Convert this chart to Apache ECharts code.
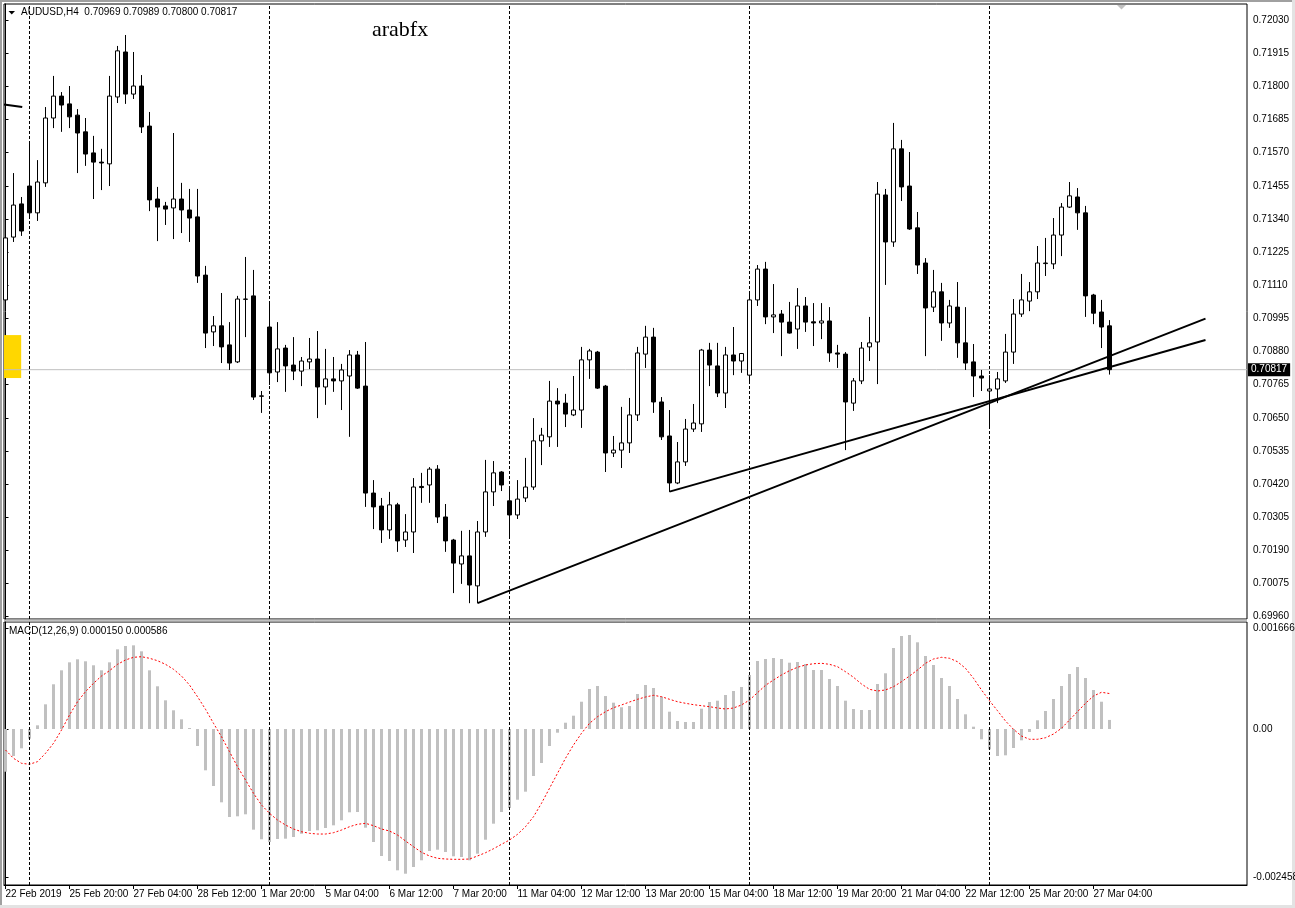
<!DOCTYPE html>
<html><head><meta charset="utf-8">
<script src="https://cdn.jsdelivr.net/npm/echarts@6/dist/echarts.min.js"></script>
<style>html,body{margin:0;padding:0;background:#fff;}#c{width:1295px;height:908px;}</style>
</head><body><div id="c"></div>
<script>
// ---------------- data ----------------
const symbolTitle = 'AUDUSD,H4  0.70969 0.70989 0.70800 0.70817';
const macdTitle = 'MACD(12,26,9) 0.000150 0.000586';
const watermark = 'arabfx';

const xTickLabels = ['22 Feb 2019','25 Feb 20:00','27 Feb 04:00','28 Feb 12:00','1 Mar 20:00','5 Mar 04:00',
  '6 Mar 12:00','7 Mar 20:00','11 Mar 04:00','12 Mar 12:00','13 Mar 20:00','15 Mar 04:00','18 Mar 12:00',
  '19 Mar 20:00','21 Mar 04:00','22 Mar 12:00','25 Mar 20:00','27 Mar 04:00'];
const barsPerLabel = 8;
const weekStartBars = [3, 33, 63, 93, 123];

const priceTicks = [0.72030,0.71915,0.71800,0.71685,0.71570,0.71455,0.71340,0.71225,0.71110,0.70995,
  0.70880,0.70765,0.70650,0.70535,0.70420,0.70305,0.70190,0.70075,0.69960];
const macdTicks = [0.001666, 0, -0.002458];
const lastPrice = 0.70817;

const opens = [0.71059,0.71277,0.71392,0.71454,0.71361,0.71465,0.71690,0.71766,0.71739,0.71700,
0.71642,0.71569,0.71537,0.71531,0.71763,0.71919,0.71773,0.71801,0.71662,0.71409,
0.71385,0.71378,0.71409,0.71371,0.71347,0.71145,0.70948,0.70969,0.70903,0.70844,
0.71061,0.71073,0.70726,0.70965,0.70809,0.70892,0.70833,0.70812,0.70844,0.70854,
0.70757,0.70785,0.70778,0.70795,0.70868,0.70760,0.70389,0.70344,0.70261,0.70348,
0.70226,0.70254,0.70412,0.70417,0.70472,0.70306,0.70226,0.70143,0.70171,0.70067,
0.70254,0.70393,0.70462,0.70362,0.70313,0.70372,0.70410,0.70570,0.70584,0.70708,
0.70701,0.70660,0.70677,0.70851,0.70878,0.70760,0.70528,0.70538,0.70563,0.70660,
0.70871,0.70930,0.70705,0.70587,0.70424,0.70497,0.70611,0.70629,0.70885,0.70830,
0.70736,0.70868,0.70847,0.70798,0.71059,0.71166,0.71000,0.71010,0.70982,0.70958,
0.71038,0.70983,0.70979,0.70986,0.70875,0.70871,0.70701,0.70778,0.70896,0.70913,
0.71423,0.71260,0.71583,0.71454,0.71309,0.71187,0.71034,0.71087,0.70979,0.71034,
0.70910,0.70844,0.70795,0.70743,0.70750,0.70778,0.70878,0.71010,0.71055,0.71087,
0.71185,0.71184,0.71284,0.71381,0.71416,0.71361,0.71076,0.71017,0.70969];
const highs = [0.71302,0.71499,0.71416,0.71607,0.71544,0.71728,0.71836,0.71780,0.71801,0.71721,
0.71690,0.71628,0.71583,0.71836,0.71940,0.71978,0.71919,0.71839,0.71711,0.71451,
0.71399,0.71638,0.71465,0.71444,0.71444,0.71177,0.71003,0.71083,0.70982,0.71073,
0.71208,0.71163,0.70743,0.71048,0.70982,0.70903,0.70930,0.70861,0.70927,0.70951,
0.70889,0.70861,0.70837,0.70885,0.70882,0.70913,0.70434,0.70372,0.70393,0.70355,
0.70316,0.70441,0.70459,0.70479,0.70486,0.70351,0.70230,0.70258,0.70261,0.70292,
0.70504,0.70500,0.70465,0.70403,0.70434,0.70511,0.70649,0.70615,0.70778,0.70753,
0.70733,0.70795,0.70896,0.70889,0.70882,0.70764,0.70587,0.70688,0.70719,0.70896,
0.70969,0.70962,0.70722,0.70677,0.70566,0.70646,0.70698,0.70889,0.70910,0.70910,
0.70896,0.70965,0.70875,0.71087,0.71180,0.71191,0.71114,0.71024,0.71052,0.71100,
0.71069,0.71048,0.71048,0.71034,0.70903,0.70878,0.70788,0.70913,0.71000,0.71468,
0.71444,0.71673,0.71614,0.71572,0.71364,0.71204,0.71163,0.71118,0.71059,0.71121,
0.71034,0.70906,0.70816,0.70798,0.70809,0.70941,0.71062,0.71149,0.71121,0.71246,
0.71274,0.71343,0.71395,0.71468,0.71447,0.71385,0.71080,0.71059,0.70989];
const lows = [0.71048,0.71260,0.71281,0.71343,0.71333,0.71451,0.71655,0.71642,0.71655,0.71499,
0.71524,0.71409,0.71440,0.71454,0.71742,0.71739,0.71756,0.71638,0.71367,0.71263,
0.71319,0.71270,0.71291,0.71260,0.71118,0.70892,0.70899,0.70840,0.70816,0.70840,
0.70930,0.70712,0.70667,0.70764,0.70774,0.70740,0.70781,0.70760,0.70819,0.70649,
0.70695,0.70740,0.70677,0.70584,0.70750,0.70341,0.70264,0.70216,0.70230,0.70185,
0.70202,0.70181,0.70355,0.70355,0.70285,0.70185,0.70042,0.70074,0.70007,0.70007,
0.70237,0.70344,0.70396,0.70237,0.70299,0.70358,0.70400,0.70486,0.70549,0.70549,
0.70618,0.70656,0.70615,0.70785,0.70750,0.70462,0.70514,0.70476,0.70528,0.70639,
0.70823,0.70667,0.70573,0.70393,0.70420,0.70483,0.70601,0.70601,0.70760,0.70722,
0.70684,0.70798,0.70806,0.70771,0.71038,0.70975,0.70944,0.70864,0.70942,0.70889,
0.70948,0.70899,0.70923,0.70844,0.70823,0.70538,0.70674,0.70767,0.70847,0.70767,
0.71111,0.71243,0.71402,0.71302,0.71149,0.70864,0.71017,0.70917,0.70962,0.70858,
0.70816,0.70722,0.70743,0.70618,0.70701,0.70771,0.70837,0.71000,0.71020,0.71062,
0.71142,0.71166,0.71211,0.71378,0.71302,0.71000,0.70975,0.70892,0.70800];
const closes = [0.71274,0.71388,0.71298,0.71361,0.71468,0.71690,0.71766,0.71735,0.71694,0.71638,
0.71565,0.71537,0.71534,0.71766,0.71923,0.71773,0.71801,0.71659,0.71406,0.71381,
0.71374,0.71409,0.71371,0.71343,0.71142,0.70944,0.70969,0.70896,0.70840,0.71062,
0.71062,0.70722,0.70725,0.70806,0.70889,0.70830,0.70812,0.70847,0.70854,0.70757,
0.70785,0.70778,0.70816,0.70868,0.70753,0.70389,0.70341,0.70261,0.70348,0.70223,
0.70254,0.70410,0.70408,0.70472,0.70306,0.70223,0.70146,0.70171,0.70070,0.70254,
0.70393,0.70459,0.70417,0.70313,0.70368,0.70410,0.70570,0.70590,0.70708,0.70698,
0.70663,0.70677,0.70851,0.70882,0.70753,0.70528,0.70538,0.70563,0.70660,0.70875,
0.70930,0.70705,0.70584,0.70424,0.70497,0.70611,0.70632,0.70885,0.70833,0.70736,
0.70868,0.70847,0.70873,0.71059,0.71166,0.71000,0.71007,0.70982,0.70944,0.71038,
0.70982,0.70979,0.70986,0.70875,0.70871,0.70705,0.70778,0.70892,0.70910,0.71426,
0.71260,0.71583,0.71451,0.71305,0.71180,0.71031,0.71087,0.70979,0.71038,0.70910,
0.70840,0.70795,0.70788,0.70750,0.70785,0.70878,0.71010,0.71059,0.71087,0.71187,
0.71187,0.71284,0.71381,0.71420,0.71361,0.71073,0.71013,0.70965,0.70817];

const macdHist = [-0.000706,-0.000446,-0.000319,-0.000160,0.000061,0.000408,0.000739,0.000970,0.001102,0.001152,
0.001119,0.001053,0.000970,0.001102,0.001317,0.001372,0.001383,0.001284,0.000970,0.000706,
0.000474,0.000309,0.000160,0.000017,-0.000281,-0.000683,-0.000942,-0.001212,-0.001455,-0.001443,
-0.001410,-0.001664,-0.001823,-0.001868,-0.001818,-0.001813,-0.001785,-0.001731,-0.001686,-0.001674,
-0.001636,-0.001592,-0.001509,-0.001377,-0.001372,-0.001631,-0.001868,-0.002099,-0.002182,-0.002336,
-0.002392,-0.002281,-0.002170,-0.002017,-0.001995,-0.002033,-0.002104,-0.002116,-0.002170,-0.002061,
-0.001830,-0.001565,-0.001372,-0.001306,-0.001169,-0.001036,-0.000777,-0.000562,-0.000281,-0.000061,
0.000104,0.000220,0.000451,0.000661,0.000711,0.000545,0.000435,0.000359,0.000380,0.000579,
0.000727,0.000678,0.000534,0.000286,0.000132,0.000116,0.000116,0.000336,0.000446,0.000468,
0.000562,0.000628,0.000694,0.000893,0.001124,0.001157,0.001174,0.001157,0.001096,0.001107,
0.001074,0.000975,0.000975,0.000826,0.000711,0.000468,0.000331,0.000314,0.000314,0.000744,
0.000921,0.001339,0.001537,0.001554,0.001433,0.001207,0.001058,0.000843,0.000711,0.000496,
0.000243,0.000038,-0.000170,-0.000336,-0.000446,-0.000435,-0.000314,-0.000187,-0.000050,0.000144,
0.000298,0.000496,0.000711,0.000909,0.001025,0.000843,0.000645,0.000451,0.000150];
const macdSignal = [-0.000347,-0.000484,-0.000567,-0.000583,-0.000540,-0.000402,-0.000236,-0.000017,0.000231,0.000451,
0.000617,0.000755,0.000876,0.000964,0.001069,0.001141,0.001185,0.001195,0.001169,0.001129,
0.001069,0.000987,0.000876,0.000727,0.000534,0.000326,0.000094,-0.000127,-0.000375,-0.000623,
-0.000843,-0.001063,-0.001256,-0.001393,-0.001504,-0.001587,-0.001653,-0.001698,-0.001724,-0.001736,
-0.001736,-0.001714,-0.001670,-0.001615,-0.001575,-0.001559,-0.001598,-0.001653,-0.001686,-0.001752,
-0.001851,-0.001946,-0.002038,-0.002099,-0.002137,-0.002149,-0.002154,-0.002154,-0.002149,-0.002099,
-0.002045,-0.001979,-0.001906,-0.001835,-0.001741,-0.001615,-0.001450,-0.001228,-0.000980,-0.000732,
-0.000484,-0.000264,-0.000071,0.000094,0.000203,0.000286,0.000352,0.000397,0.000446,0.000491,
0.000529,0.000557,0.000534,0.000491,0.000451,0.000425,0.000402,0.000385,0.000369,0.000347,
0.000331,0.000347,0.000397,0.000479,0.000600,0.000722,0.000810,0.000893,0.000964,0.001020,
0.001058,0.001079,0.001086,0.001069,0.001030,0.000947,0.000855,0.000744,0.000656,0.000628,
0.000645,0.000699,0.000782,0.000876,0.000975,0.001086,0.001157,0.001185,0.001169,0.001112,
0.001003,0.000838,0.000645,0.000468,0.000302,0.000132,-0.000005,-0.000116,-0.000170,-0.000170,
-0.000144,-0.000083,0.000012,0.000149,0.000286,0.000425,0.000545,0.000607,0.000586];

// trend lines drawn on the chart: [barIndex, price] end points
const trendLineA = [[59, 0.70007], [150, 0.70994]];
const trendLineB = [[83, 0.70394], [150, 0.70920]];
const trendLineC = [[-0.1875, 0.71737], [2.09, 0.71728]];
// highlighted rectangle (bar index range, price range)
const yellowBox = {x0: -0.1875, x1: 1.96, top: 0.70937, bottom: 0.70788};

// ---------------- axis ranges ----------------
const X_MIN = -0.1875, X_MAX = 155.1875;
const PRICE_MIN = 0.699521, PRICE_MAX = 0.720855;
const MACD_MIN = -0.0025785, MACD_MAX = 0.0017686;

const FONT = '"Liberation Sans", Arial, sans-serif';
const candleData = opens.map((o, i) => [i, o, closes[i], lows[i], highs[i]]);
const histData = macdHist.map((v, i) => [i, v]);
const sigData = macdSignal.map((v, i) => [i, v]);
const xTickPos = xTickLabels.map((_, k) => k * barsPerLabel);

const sepLines = weekStartBars.map(v => ({xAxis: v, lineStyle: {color: '#000', type: [3, 2], width: 1}, label: {show: false}}));

function trend(data) {
  return {type: 'line', xAxisIndex: 0, yAxisIndex: 0, data: data, symbol: 'none', silent: true, z: 6,
    lineStyle: {color: '#000', width: 2}};
}

const chart = echarts.init(document.getElementById('c'), null, {renderer: 'canvas', width: 1295, height: 908});
const axisLbl = {fontSize: 10, color: '#000', fontFamily: FONT};
chart.setOption({
  animation: false,
  backgroundColor: '#fff',
  textStyle: {fontFamily: FONT},
  grid: [
    {left: 4, top: 4, width: 1243, height: 615, show: true, borderColor: '#000', borderWidth: 1,
      backgroundColor: 'transparent', containLabel: false, outerBoundsMode: 'none'},
    {left: 4, top: 622, width: 1243, height: 263, show: true, borderColor: '#000', borderWidth: 1,
      backgroundColor: 'transparent', containLabel: false, outerBoundsMode: 'none'}
  ],
  xAxis: [
    {type: 'value', gridIndex: 0, min: X_MIN, max: X_MAX, show: false, splitLine: {show: false}},
    {type: 'value', gridIndex: 1, min: X_MIN, max: X_MAX, splitLine: {show: false},
      axisLine: {show: true, onZero: false, lineStyle: {color: '#000', width: 1}},
      axisTick: {show: true, customValues: xTickPos, length: 4, lineStyle: {color: '#000'}},
      axisLabel: Object.assign({customValues: xTickPos, align: 'left', margin: 4,
        formatter: v => xTickLabels[Math.round(v / barsPerLabel)] || ''}, axisLbl)}
  ],
  yAxis: [
    {type: 'value', gridIndex: 0, position: 'right', min: PRICE_MIN, max: PRICE_MAX, splitLine: {show: false},
      axisLine: {show: true, lineStyle: {color: '#000', width: 1}},
      axisTick: {show: true, customValues: priceTicks, length: 3, lineStyle: {color: '#000'}},
      axisLabel: Object.assign({customValues: priceTicks, margin: 6, formatter: v => v.toFixed(5)}, axisLbl)},
    {type: 'value', gridIndex: 1, position: 'right', min: MACD_MIN, max: MACD_MAX, splitLine: {show: false},
      axisLine: {show: true, lineStyle: {color: '#000', width: 1}},
      axisTick: {show: true, customValues: macdTicks, length: 3, lineStyle: {color: '#000'}},
      axisLabel: Object.assign({customValues: macdTicks, margin: 6, formatter: v => (v === 0 ? '0.00' : v.toFixed(6))}, axisLbl)}
  ],
  series: [
    {type: 'line', name: 'Bid', xAxisIndex: 0, yAxisIndex: 0, data: [[X_MIN, lastPrice], [X_MAX, lastPrice]],
      symbol: 'none', silent: true, z: 2, clip: false, lineStyle: {color: '#C0C0C0', width: 1},
      endLabel: {show: true, formatter: lastPrice.toFixed(5), backgroundColor: '#000', color: '#fff',
        padding: [2, 3, 1, 3], fontSize: 10, fontFamily: FONT, distance: 1}},
    {type: 'candlestick', name: 'AUDUSD', xAxisIndex: 0, yAxisIndex: 0, data: candleData, barWidth: 4, z: 5,
      itemStyle: {color: '#fff', color0: '#000', borderColor: '#000', borderColor0: '#000', borderColorDoji: '#000', borderWidth: 1},
      markArea: {silent: true, itemStyle: {color: '#FFD700', opacity: 1},
        data: [[{xAxis: yellowBox.x0, yAxis: yellowBox.top}, {xAxis: yellowBox.x1, yAxis: yellowBox.bottom}]]},
      markLine: {silent: true, symbol: ['none', 'none'], label: {show: false}, data: sepLines}
    },
    trend(trendLineA), trend(trendLineB), trend(trendLineC),
    {type: 'bar', name: 'MACD', xAxisIndex: 1, yAxisIndex: 1, data: histData, barWidth: 3, itemStyle: {color: '#C0C0C0'},
      markLine: {silent: true, symbol: ['none', 'none'], label: {show: false}, data: sepLines}},
    {type: 'line', name: 'Signal', xAxisIndex: 1, yAxisIndex: 1, data: sigData, symbol: 'none', z: 4,
      lineStyle: {color: '#FF0000', width: 1, type: [2, 2]}}
  ],
  graphic: [
    {type: 'rect', shape: {x: 0, y: 0, width: 1295, height: 2}, style: {fill: '#A0A0A0'}, silent: true},
    {type: 'rect', shape: {x: 0, y: 0, width: 2, height: 908}, style: {fill: '#A0A0A0'}, silent: true},
    {type: 'rect', shape: {x: 1292, y: 0, width: 3, height: 908}, style: {fill: '#E3E3E3'}, silent: true},
    {type: 'rect', shape: {x: 0, y: 905, width: 1295, height: 3}, style: {fill: '#E3E3E3'}, silent: true},
    {type: 'rect', shape: {x: 4, y: 619.5, width: 1243, height: 2}, style: {fill: '#C0C0C0'}, silent: true},
    {type: 'polygon', shape: {points: [[8.5, 11], [15, 11], [11.75, 14.5]]}, style: {fill: '#000'}, silent: true},
    {type: 'text', x: 21, y: 12.5, style: {text: symbolTitle, fill: '#000', font: '10px ' + FONT, verticalAlign: 'middle', textVerticalAlign: 'middle'}, silent: true},
    {type: 'text', x: 372, y: 30, style: {text: watermark, fill: '#000', font: '22px "Liberation Serif", serif', verticalAlign: 'middle', textVerticalAlign: 'middle'}, silent: true},
    {type: 'text', x: 9, y: 631, style: {text: macdTitle, fill: '#000', font: '10px ' + FONT, verticalAlign: 'middle', textVerticalAlign: 'middle'}, silent: true},
    {type: 'polygon', shape: {points: [[1117, 5], [1126, 5], [1121.5, 9.5]]}, style: {fill: '#C0C0C0'}, silent: true}
  ]
});
</script></body></html>
